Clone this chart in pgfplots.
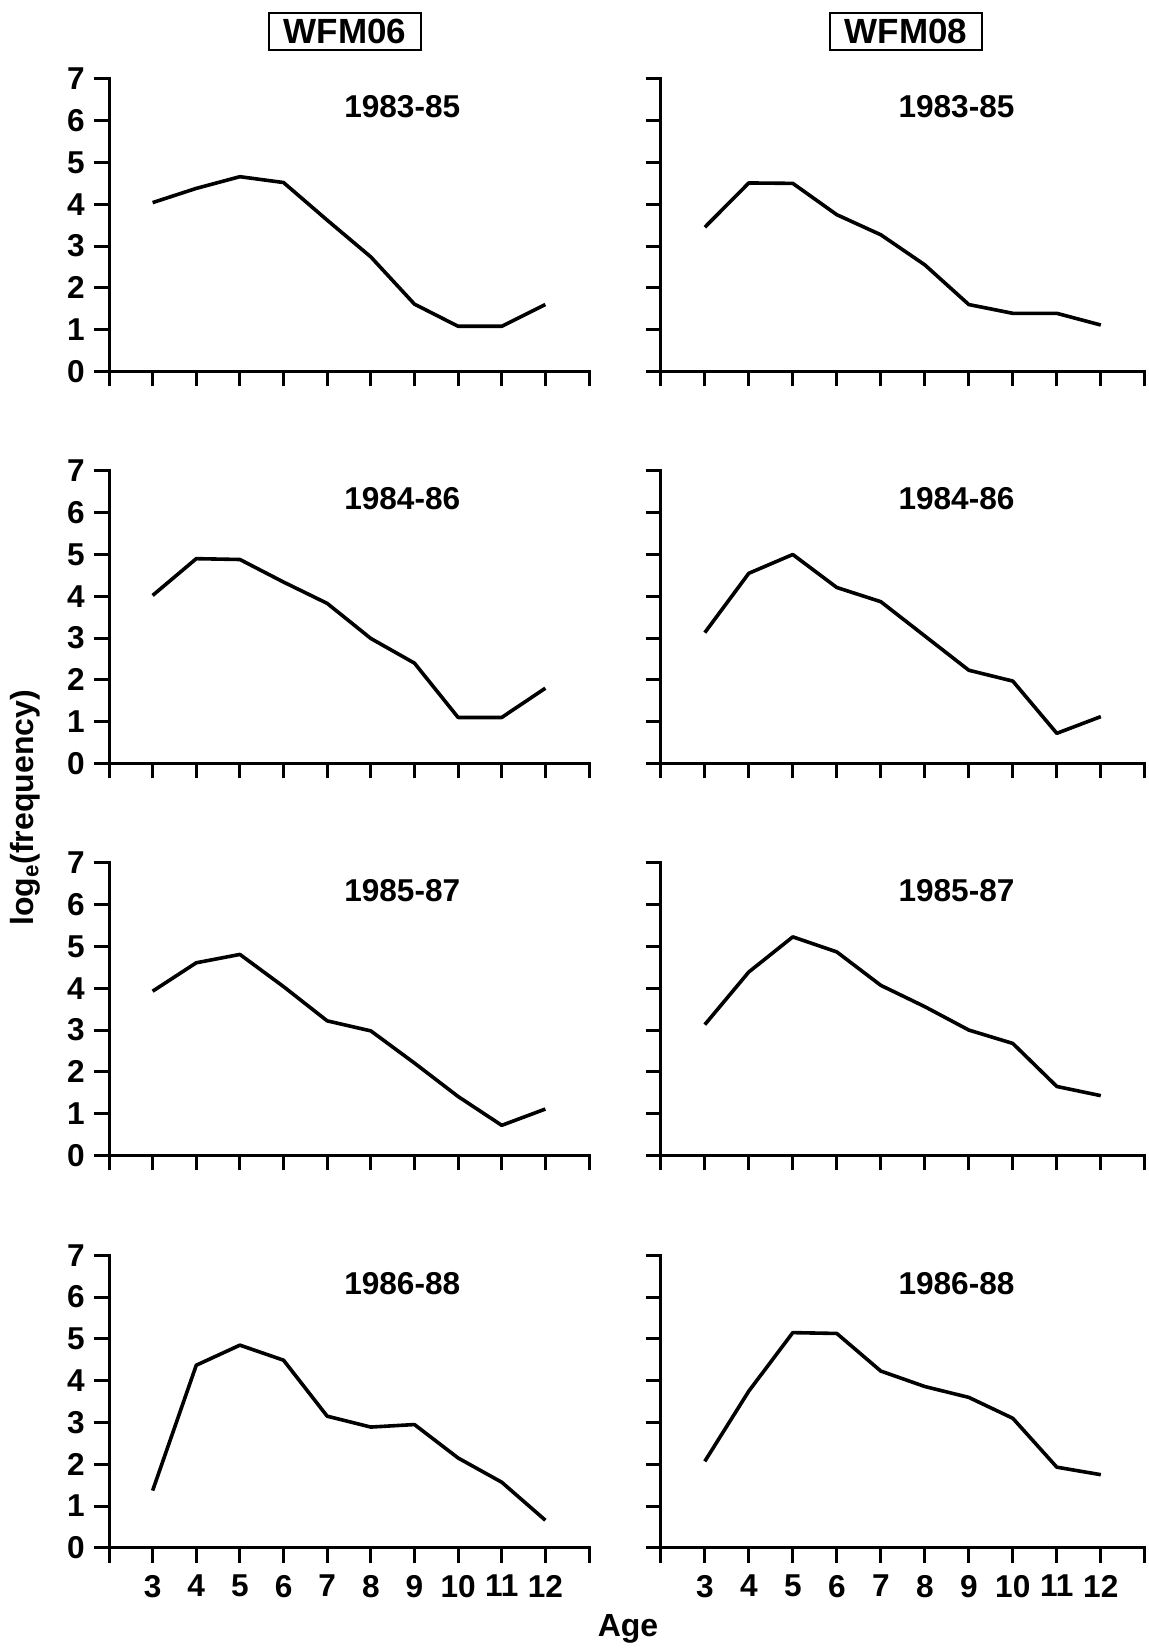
\documentclass[border=0pt]{standalone}
\usepackage{fontspec}
\setmainfont{Liberation Sans}
\usepackage{pgfplots}
\pgfplotsset{compat=1.18}
\pgfplotsset{
  panel/.style={
    scale only axis, height=146.25pt,
    xmin=2, xmax=13, ymin=0, ymax=7,
    axis lines=left, axis line style={-, line width=1.5pt, line cap=rect},
    tick style={line width=1.5pt, black},
    major tick length=7.5pt, tick align=outside,
    xtick={2,...,13}, ytick={0,...,7},
    xticklabels={{},{},{},{},{},{},{},{},{},{},{},{}},
    tick label style={font=\fontsize{15.8}{16}\selectfont\bfseries, inner sep=0pt},
    yticklabel style={anchor=east, xshift=-4.5pt},
    xticklabel style={anchor=north, yshift=-6pt},
    /pgf/number format/assume math mode=true,
    clip=false, anchor=south west,
  },
  leftcol/.style={panel, width=240pt},
  rightcol/.style={panel, width=242pt, yticklabels={{},{},{},{},{},{},{},{}}},
  bottomrow/.style={xticklabels={{},3,4,5,6,7,8,9,10,11,12,{}}},
}
\tikzset{
  curve/.style={black, line width=1.8pt, line join=round},
  yr/.style={font=\fontsize{15.8}{16}\selectfont\bfseries},
}
\begin{document}
\begin{tikzpicture}
\useasboundingbox (0,0) rectangle (574.5pt,-825pt);

% Row 1
\begin{axis}[leftcol, at={(54.5pt,-185.7pt)}]
\addplot[curve] coordinates {(3,4.04) (4,4.38) (5,4.66) (6,4.52) (7,3.62) (8,2.74) (9,1.61) (10,1.08) (11,1.08) (12,1.60)};
\node[yr] at (axis cs:8.72,6.33) {1983-85};
\end{axis}
\begin{axis}[rightcol, at={(330.4pt,-185.7pt)}]
\addplot[curve] coordinates {(3,3.45) (4,4.51) (5,4.50) (6,3.75) (7,3.27) (8,2.55) (9,1.60) (10,1.39) (11,1.39) (12,1.11)};
\node[yr] at (axis cs:8.72,6.33) {1983-85};
\end{axis}

% Row 2
\begin{axis}[leftcol, at={(54.5pt,-381.7pt)}]
\addplot[curve] coordinates {(3,4.02) (4,4.90) (5,4.88) (6,4.34) (7,3.83) (8,2.99) (9,2.40) (10,1.10) (11,1.10) (12,1.80)};
\node[yr] at (axis cs:8.72,6.33) {1984-86};
\end{axis}
\begin{axis}[rightcol, at={(330.4pt,-381.7pt)}]
\addplot[curve] coordinates {(3,3.13) (4,4.55) (5,5.00) (6,4.21) (7,3.87) (8,3.05) (9,2.23) (10,1.97) (11,0.72) (12,1.12)};
\node[yr] at (axis cs:8.72,6.33) {1984-86};
\end{axis}

% Row 3
\begin{axis}[leftcol, at={(54.5pt,-577.7pt)}]
\addplot[curve] coordinates {(3,3.93) (4,4.61) (5,4.81) (6,4.04) (7,3.22) (8,2.98) (9,2.21) (10,1.41) (11,0.72) (12,1.11)};
\node[yr] at (axis cs:8.72,6.33) {1985-87};
\end{axis}
\begin{axis}[rightcol, at={(330.4pt,-577.7pt)}]
\addplot[curve] coordinates {(3,3.13) (4,4.39) (5,5.23) (6,4.87) (7,4.07) (8,3.56) (9,3.00) (10,2.68) (11,1.65) (12,1.43)};
\node[yr] at (axis cs:8.72,6.33) {1985-87};
\end{axis}

% Row 4
\begin{axis}[leftcol, bottomrow, at={(54.5pt,-773.9pt)}]
\addplot[curve] coordinates {(3,1.37) (4,4.37) (5,4.85) (6,4.49) (7,3.15) (8,2.89) (9,2.95) (10,2.15) (11,1.57) (12,0.66)};
\node[yr] at (axis cs:8.72,6.33) {1986-88};
\end{axis}
\begin{axis}[rightcol, bottomrow, at={(330.4pt,-773.9pt)}]
\addplot[curve] coordinates {(3,2.07) (4,3.75) (5,5.15) (6,5.13) (7,4.23) (8,3.86) (9,3.60) (10,3.10) (11,1.93) (12,1.75)};
\node[yr] at (axis cs:8.72,6.33) {1986-88};
\end{axis}

% Titles and axis labels
\node[draw, line width=1pt, inner xsep=7.5pt, inner ysep=3pt, font=\fontsize{17.5}{18}\selectfont\bfseries] at (172.5pt,-15.8pt) {WFM06};
\node[draw, line width=1pt, inner xsep=7.5pt, inner ysep=3pt, font=\fontsize{17.5}{18}\selectfont\bfseries] at (453pt,-15.8pt) {WFM08};
\node[rotate=90, font=\fontsize{16}{16}\selectfont\bfseries] at (12.5pt,-404pt) {log\textsubscript{e}(frequency)};
\node[font=\fontsize{16}{16}\selectfont\bfseries] at (314pt,-814.5pt) {Age};
\end{tikzpicture}
\end{document}
